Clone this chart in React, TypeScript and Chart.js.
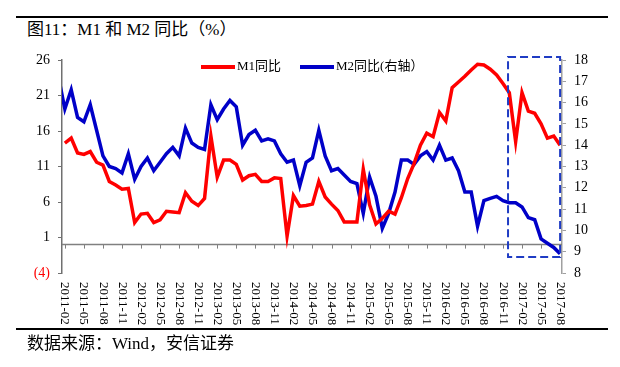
import React, { useEffect, useRef } from 'react';
import { Chart, registerables } from 'chart.js';

Chart.register(...registerables);

// Months on the x axis (index 0 = 2011-01)
const months = [
  '2011-01', '2011-02', '2011-03', '2011-04', '2011-05', '2011-06', '2011-07', '2011-08', '2011-09', '2011-10', '2011-11', '2011-12',
  '2012-01', '2012-02', '2012-03', '2012-04', '2012-05', '2012-06', '2012-07', '2012-08', '2012-09', '2012-10', '2012-11', '2012-12',
  '2013-01', '2013-02', '2013-03', '2013-04', '2013-05', '2013-06', '2013-07', '2013-08', '2013-09', '2013-10', '2013-11', '2013-12',
  '2014-01', '2014-02', '2014-03', '2014-04', '2014-05', '2014-06', '2014-07', '2014-08', '2014-09', '2014-10', '2014-11', '2014-12',
  '2015-01', '2015-02', '2015-03', '2015-04', '2015-05', '2015-06', '2015-07', '2015-08', '2015-09', '2015-10', '2015-11', '2015-12',
  '2016-01', '2016-02', '2016-03', '2016-04', '2016-05', '2016-06', '2016-07', '2016-08', '2016-09', '2016-10', '2016-11', '2016-12',
  '2017-01', '2017-02', '2017-03', '2017-04', '2017-05', '2017-06', '2017-07', '2017-08',
];

// M1 YoY (%), starting 2011-02 (left axis)
const m1StartIndex = 1;
const m1Values = [
  14.3, 15.0, 12.9, 12.7, 13.1, 11.6, 11.2, 8.9, 8.4, 7.8, 7.9,
  3.1, 4.3, 4.4, 3.1, 3.5, 4.7, 4.6, 4.5, 7.3, 6.1, 5.5, 6.5,
  15.3, 9.5, 11.9, 11.9, 11.3, 9.1, 9.7, 9.9, 8.9, 8.9, 9.4, 9.3,
  1.2, 6.9, 5.4, 5.5, 5.7, 8.9, 6.7, 5.7, 4.8, 3.2, 3.2, 3.2,
  10.6, 5.6, 2.9, 3.7, 4.7, 4.3, 6.6, 9.3, 11.4, 14.0, 15.7, 15.2,
  18.6, 17.4, 22.1, 22.9, 23.7, 24.6, 25.4, 25.3, 24.7, 23.9, 22.7, 21.4,
  14.5, 21.4, 18.8, 18.5, 17.0, 15.0, 15.3, 14.0,
];

// M2 YoY (%), starting 2011-01 (right axis)
const m2StartIndex = 0;
const m2Values = [
  17.2, 15.7, 16.6, 15.3, 15.1, 15.9, 14.7, 13.5, 13.0, 12.9, 12.7, 13.6,
  12.4, 13.0, 13.4, 12.8, 13.2, 13.6, 13.9, 13.5, 14.8, 14.1, 13.9, 13.8,
  15.9, 15.2, 15.7, 16.1, 15.8, 14.0, 14.5, 14.7, 14.2, 14.3, 14.2, 13.6,
  13.2, 13.3, 12.1, 13.2, 13.4, 14.7, 13.5, 12.8, 12.9, 12.6, 12.3, 12.2,
  10.8, 12.5, 11.6, 10.1, 10.8, 11.8, 13.3, 13.3, 13.1, 13.5, 13.7, 13.3,
  14.0, 13.3, 13.4, 12.8, 11.8, 11.8, 10.2, 11.4, 11.5, 11.6, 11.4, 11.3,
  11.3, 11.1, 10.6, 10.5, 9.6, 9.4, 9.2, 8.9,
];

const leftTicks = [-4, 1, 6, 11, 16, 21, 26];
const rightTicks = [8, 9, 10, 11, 12, 13, 14, 15, 16, 17, 18];
const xLabelFirst = 1;
const xLabelStep = 3;

// highlighted window (x in month index, y on right axis)
const highlight = { x0: 70.8, x1: 79.0, y0: 8.75, y1: 18.14 };

const FONT = "'Liberation Serif', 'Times New Roman', 'Noto Sans CJK SC', serif";

const overlayPlugin = {
  id: 'overlay',
  beforeDatasetsDraw(chart: any) {
    const { ctx, chartArea, scales } = chart;
    const xs = scales.x;
    const y0 = scales.y.getPixelForValue(0);
    ctx.save();
    ctx.strokeStyle = '#808080';
    ctx.lineWidth = 1.5;
    ctx.beginPath();
    ctx.moveTo(chartArea.left, y0);
    ctx.lineTo(chartArea.right, y0);
    ctx.stroke();
    ctx.lineWidth = 1;
    ctx.beginPath();
    for (let i = xLabelFirst; i < months.length; i += xLabelStep) {
      const px = Math.round(xs.getPixelForValue(i)) + 0.5;
      ctx.moveTo(px, y0);
      ctx.lineTo(px, y0 + 4);
    }
    ctx.stroke();
    ctx.restore();
  },
  afterDraw(chart: any) {
    const { ctx, chartArea, scales } = chart;
    const xs = scales.x;
    const yr = scales.y1;
    ctx.save();
    // rotated x labels (reading top to bottom)
    ctx.font = `13px ${FONT}`;
    ctx.fillStyle = '#000';
    ctx.textAlign = 'left';
    ctx.textBaseline = 'middle';
    for (let i = xLabelFirst; i < months.length; i += xLabelStep) {
      const px = xs.getPixelForValue(i);
      ctx.save();
      ctx.translate(px, chartArea.bottom + 9);
      ctx.rotate(Math.PI / 2);
      ctx.fillText(months[i], 0, 0);
      ctx.restore();
    }
    // dashed highlight box
    const bx0 = xs.getPixelForValue(highlight.x0);
    const bx1 = xs.getPixelForValue(highlight.x1);
    const by0 = yr.getPixelForValue(highlight.y1);
    const by1 = yr.getPixelForValue(highlight.y0);
    ctx.strokeStyle = '#1f3cc4';
    ctx.lineWidth = 2;
    ctx.setLineDash([8, 4]);
    ctx.strokeRect(bx0, by0, bx1 - bx0, by1 - by0);
    ctx.setLineDash([]);
    // legend
    const ly = chartArea.top + 7;
    const items = [
      { color: '#ff0000', label: 'M1同比', x: chartArea.left + 139 },
      { color: '#0000c8', label: 'M2同比(右轴）', x: chartArea.left + 238 },
    ];
    ctx.font = `13px ${FONT}`;
    ctx.textBaseline = 'middle';
    for (const it of items) {
      ctx.strokeStyle = it.color;
      ctx.lineWidth = 4;
      ctx.beginPath();
      ctx.moveTo(it.x, ly);
      ctx.lineTo(it.x + 34, ly);
      ctx.stroke();
      ctx.fillStyle = '#000';
      ctx.fillText(it.label, it.x + 36, ly);
    }
    ctx.restore();
  },
};

export default function App() {
  const canvasRef = useRef<HTMLCanvasElement | null>(null);

  useEffect(() => {
    if (!canvasRef.current) return;
    const chart = new Chart(canvasRef.current, {
      type: 'line',
      data: {
        datasets: [
          {
            label: 'M1同比',
            data: m1Values.map((v, i) => ({ x: i + m1StartIndex, y: v })),
            borderColor: '#ff0000',
            backgroundColor: '#ff0000',
            borderWidth: 3.5,
            pointRadius: 0,
            tension: 0,
            yAxisID: 'y',
            clip: { left: 0, top: 4, right: 4, bottom: 4 } as any,
          },
          {
            label: 'M2同比(右轴）',
            data: m2Values.map((v, i) => ({ x: i + m2StartIndex, y: v })),
            borderColor: '#0000c8',
            backgroundColor: '#0000c8',
            borderWidth: 3.5,
            pointRadius: 0,
            tension: 0,
            yAxisID: 'y1',
            clip: { left: 0, top: 4, right: 4, bottom: 4 } as any,
          },
        ],
      },
      options: {
        animation: false,
        responsive: false,
        maintainAspectRatio: false,
        layout: { padding: { top: 60, left: 0, right: 0, bottom: 0 } },
        plugins: { legend: { display: false }, tooltip: { enabled: false } },
        scales: {
          x: {
            type: 'linear',
            min: 0.55,
            max: 79.3,
            grid: { display: false },
            border: { display: false },
            ticks: { display: false },
            afterFit: (s: any) => { s.height = 94; },
          },
          y: {
            type: 'linear',
            position: 'left',
            min: -4,
            max: 26,
            afterBuildTicks: (s: any) => { s.ticks = leftTicks.map((v) => ({ value: v })); },
            afterFit: (s: any) => { s.width = 62; },
            grid: { drawOnChartArea: false, drawTicks: true, tickLength: 4, color: '#707070' },
            border: { display: true, color: '#707070', width: 1.5 },
            ticks: {
              padding: 8,
              font: { family: FONT, size: 14 },
              color: (c: any) => (c.tick && c.tick.value < 0 ? '#ff0000' : '#000000'),
              callback: (v: any) => (v < 0 ? `(${-v})` : `${v}`),
            },
          },
          y1: {
            type: 'linear',
            position: 'right',
            min: 8,
            max: 18,
            afterBuildTicks: (s: any) => { s.ticks = rightTicks.map((v) => ({ value: v })); },
            afterFit: (s: any) => { s.width = 58; },
            grid: { drawOnChartArea: false, drawTicks: true, tickLength: 4, color: '#a0a0a0' },
            border: { display: true, color: '#a0a0a0', width: 1.5 },
            ticks: {
              padding: 8,
              font: { family: FONT, size: 14 },
              color: '#000000',
            },
          },
        },
      },
      plugins: [overlayPlugin],
    } as any);
    return () => chart.destroy();
  }, []);

  return (
    <div style={{ position: 'absolute', left: 0, top: 0, width: 620, height: 367, background: '#fff', fontFamily: FONT }}>
      <div style={{ position: 'absolute', left: 16, top: 16, width: 592, height: 2, background: '#000' }} />
      <div style={{ position: 'absolute', left: 27, top: 21, fontSize: 17, lineHeight: '18px', color: '#000', whiteSpace: 'nowrap' }}>
        图11：M1 和 M2 同比（%）
      </div>
      <canvas ref={canvasRef} width={620} height={367} style={{ position: 'absolute', left: 0, top: 0, width: 620, height: 367 }} />
      <div style={{ position: 'absolute', left: 16, top: 328, width: 592, height: 2, background: '#000' }} />
      <div style={{ position: 'absolute', left: 27, top: 335, fontSize: 17, lineHeight: '18px', color: '#000', whiteSpace: 'nowrap' }}>
        数据来源：Wind，安信证券
      </div>
    </div>
  );
}
